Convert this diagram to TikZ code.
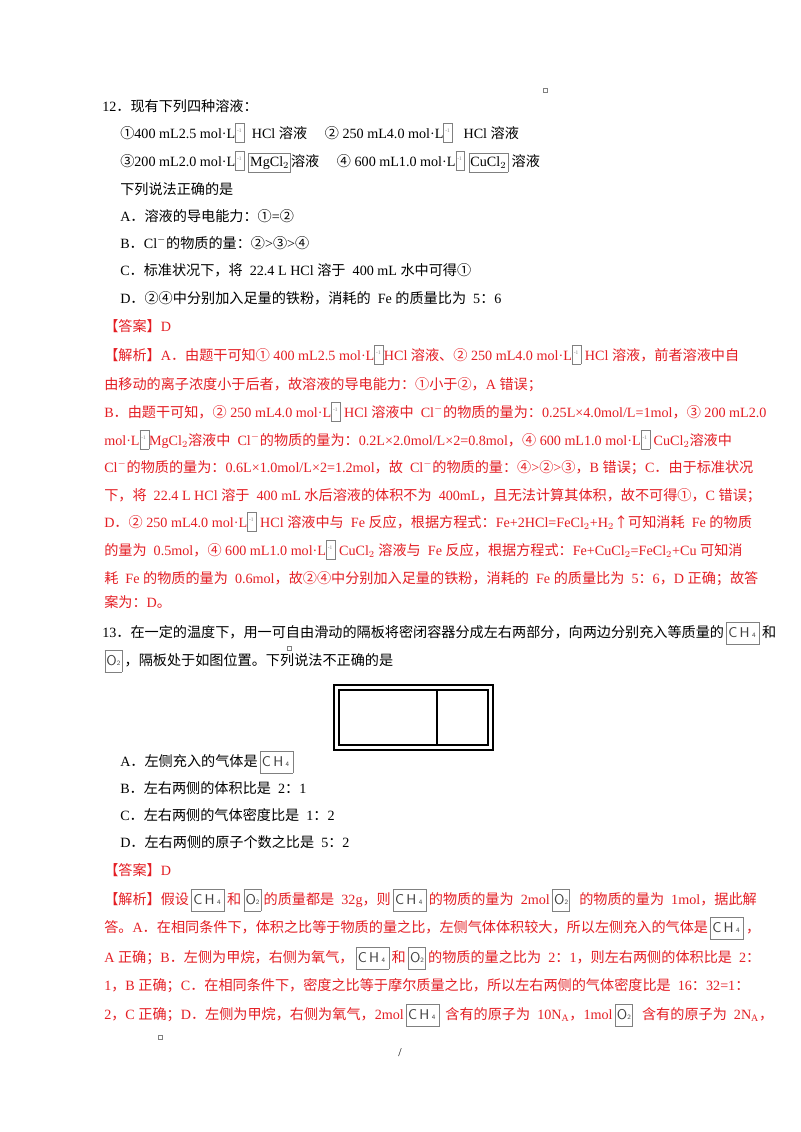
\documentclass[tikz,border=0pt]{standalone}
\usepackage{fontspec}
\setmainfont{Liberation Serif}
\newfontfamily\cjk{Noto Sans CJK SC}
\XeTeXinterchartokenstate=1
\newXeTeXintercharclass\CJKc
\newcount\cc
\cc="2460 \loop \XeTeXcharclass\cc=\CJKc \ifnum\cc<"2473 \advance\cc 1 \repeat
\cc="3000 \loop \XeTeXcharclass\cc=\CJKc \ifnum\cc<"9FFF \advance\cc 1 \repeat
\cc="FF00 \loop \XeTeXcharclass\cc=\CJKc \ifnum\cc<"FFEF \advance\cc 1 \repeat
\XeTeXcharclass"2191=\CJKc
\XeTeXinterchartoks 0 \CJKc = {\begingroup\cjk}
\XeTeXinterchartoks 4095 \CJKc = {\begingroup\cjk}
\XeTeXinterchartoks \CJKc 0 = {\endgroup}
\XeTeXinterchartoks \CJKc 4095 = {\endgroup}
\definecolor{ans}{RGB}{228,30,36}
\setlength{\fboxsep}{1pt}
\setlength{\fboxrule}{0.4pt}
\newcommand\gb[1]{\fcolorbox{gray}{white}{\strut #1}}
\newcommand\lb{\fcolorbox{gray}{white}{\rule[-2pt]{0pt}{12pt}\raisebox{4pt}{\textcolor{gray}{\fontsize{4pt}{4pt}\selectfont -1}}\hspace{1pt}}}
\newcommand\ch{\,\fcolorbox{gray}{white}{\rule[-4pt]{0pt}{14pt}\textcolor{darkgray}{\sffamily C\,H\,{\tiny 4}}\,}\,}
\newcommand\oo{\,\fcolorbox{gray}{white}{\rule[-4pt]{0pt}{14pt}\textcolor{darkgray}{\sffamily O{\tiny 2}}}\,}
\begin{document}
\begin{tikzpicture}[x=0.75pt,y=-0.75pt,
  ln/.style={anchor=base west,inner sep=0pt,font=\fontsize{10.6pt}{12pt}\selectfont},
  rl/.style={ln,text=ans},
  mk/.style={draw=gray,line width=0.3pt,minimum size=3pt,inner sep=0pt}]
\path[use as bounding box,fill=white] (0,0) rectangle (800,1132);
\node[mk] (m1) at (545,90) {};
\node[ln] (q12) at (102,111) {12．现有下列四种溶液：};
\node[ln] (o1) at (120,138) {①400 mL2.5 mol·L\lb\ \ HCl 溶液 \quad ② 250 mL4.0 mol·L\lb\ \ \ HCl 溶液};
\node[ln] (o3) at (120,166) {③200 mL2.0 mol·L\lb\ \gb{MgCl$_2$}溶液 \quad ④ 600 mL1.0 mol·L\lb\ \gb{CuCl$_2$} 溶液};
\node[ln] (q) at (120,194) {下列说法正确的是};
\node[ln] (a) at (120,221) {A．溶液的导电能力：①=②};
\node[ln] (b) at (120,248) {B．Cl$^{-}$的物质的量：②>③>④};
\node[ln] (c) at (120,275) {C．标准状况下，将 \ 22.4 L HCl 溶于 \ 400 mL 水中可得①};
\node[ln] (d) at (120,303) {D．②④中分别加入足量的铁粉，消耗的 \ Fe 的质量比为 \ 5：6};
\node[rl] (ans1) at (104,331) {【答案】D};
\node[rl] (j1) at (104,360) {【解析】A．由题干可知① 400 mL2.5 mol·L\lb HCl 溶液、② 250 mL4.0 mol·L\lb\ HCl 溶液，前者溶液中自};
\node[rl] (j2) at (104,389) {由移动的离子浓度小于后者，故溶液的导电能力：①小于②，A 错误；};
\node[rl] (j3) at (104,417) {B．由题干可知，② 250 mL4.0 mol·L\lb\ HCl 溶液中 \ Cl$^{-}$的物质的量为：0.25L×4.0mol/L=1mol，③ 200 mL2.0};
\node[rl] (j4) at (104,445) {mol·L\lb MgCl$_2$溶液中 \ Cl$^{-}$的物质的量为：0.2L×2.0mol/L×2=0.8mol，④ 600 mL1.0 mol·L\lb\ CuCl$_2$溶液中};
\node[rl] (j5) at (104,472) {Cl$^{-}$的物质的量为：0.6L×1.0mol/L×2=1.2mol，故 \ Cl$^{-}$的物质的量：④>②>③，B 错误；C．由于标准状况};
\node[rl] (j6) at (104,500) {下，将 \ 22.4 L HCl 溶于 \ 400 mL 水后溶液的体积不为 \ 400mL，且无法计算其体积，故不可得①，C 错误；};
\node[rl] (j7) at (104,527) {D．② 250 mL4.0 mol·L\lb\ HCl 溶液中与 \ Fe 反应，根据方程式：Fe+2HCl=FeCl$_2$+H$_2$↑可知消耗 \ Fe 的物质};
\node[rl] (j8) at (104,555) {的量为 \ 0.5mol，④ 600 mL1.0 mol·L\lb\ CuCl$_2$ 溶液与 \ Fe 反应，根据方程式：Fe+CuCl$_2$=FeCl$_2$+Cu 可知消};
\node[rl] (j9) at (104,583) {耗 \ Fe 的物质的量为 \ 0.6mol，故②④中分别加入足量的铁粉，消耗的 \ Fe 的质量比为 \ 5：6，D 正确；故答};
\node[rl] (j10) at (104,607) {案为：D。};
\node[ln] (q13) at (102,637) {13．在一定的温度下，用一可自由滑动的隔板将密闭容器分成左右两部分，向两边分别充入等质量的\ch 和};
\node[mk] (m2) at (289,648) {};
\node[ln] (q13b) at (102,665) {\oo ，隔板处于如图位置。下列说法不正确的是};
\draw[line width=0.8pt] (334,685) rectangle (493,750);
\draw[line width=1.2pt] (339,690) rectangle (488,745);
\draw[line width=1.2pt] (437,690) -- (437,745);
\node[ln] (a13) at (120,766) {A．左侧充入的气体是\ch};
\node[ln] (b13) at (120,793) {B．左右两侧的体积比是 \ 2：1};
\node[ln] (c13) at (120,820) {C．左右两侧的气体密度比是 \ 1：2};
\node[ln] (d13) at (120,847) {D．左右两侧的原子个数之比是 \ 5：2};
\node[rl] (ans2) at (104,875) {【答案】D};
\node[rl] (k1) at (104,904) {【解析】假设\ch 和\oo 的质量都是 \ 32g，则\ch 的物质的量为 \ 2mol\oo \ \ 的物质的量为 \ 1mol，据此解};
\node[rl] (k2) at (104,932) {答。A．在相同条件下，体积之比等于物质的量之比，左侧气体体积较大，所以左侧充入的气体是\ch ，};
\node[rl] (k3) at (104,962) {A 正确；B．左侧为甲烷，右侧为氧气，\ch 和\oo 的物质的量之比为 \ 2：1，则左右两侧的体积比是 \ 2：};
\node[rl] (k4) at (104,990) {1，B 正确；C．在相同条件下，密度之比等于摩尔质量之比，所以左右两侧的气体密度比是 \ 16：32=1：};
\node[rl] (k5) at (104,1019) {2，C 正确；D．左侧为甲烷，右侧为氧气，2mol\ch \ 含有的原子为 \ 10N$_\mathrm{A}$，1mol\oo \ \ 含有的原子为 \ 2N$_\mathrm{A}$，};
\node[mk] (m3) at (160,1037) {};
\node[ln] (sl) at (398,1056) {\small /};
\end{tikzpicture}
\end{document}
